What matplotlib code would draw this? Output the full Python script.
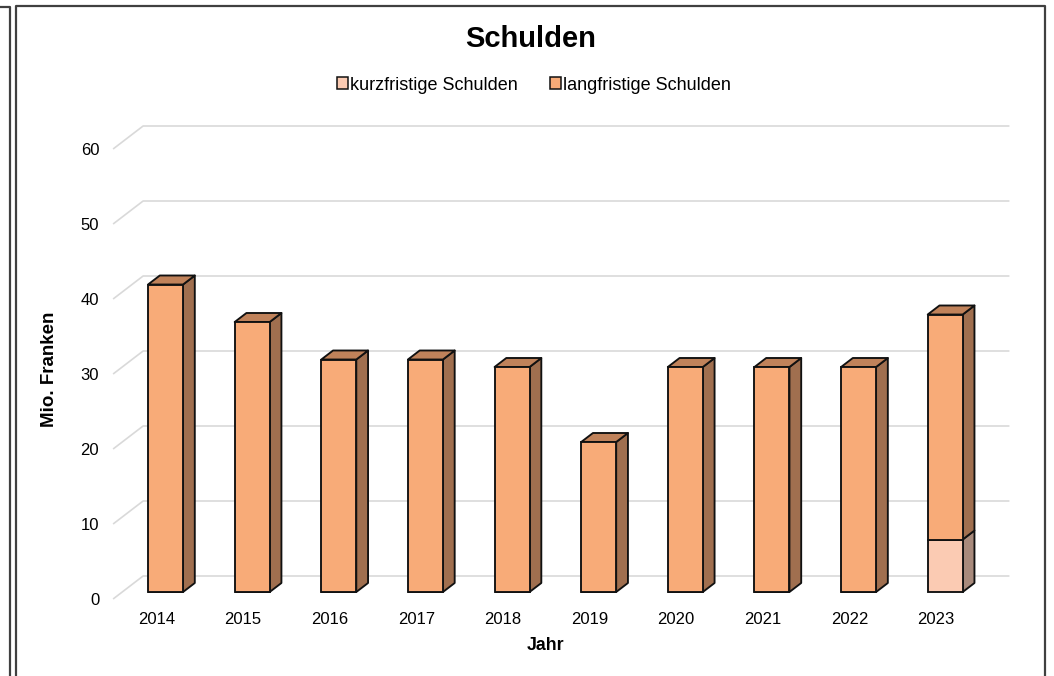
import matplotlib
matplotlib.use("Agg")
import matplotlib.pyplot as plt
from matplotlib.patches import Polygon, Patch
from matplotlib.lines import Line2D
import numpy as np

# ---- data ----
years = ["2014", "2015", "2016", "2017", "2018", "2019", "2020", "2021", "2022", "2023"]
kurzfristig = [0, 0, 0, 0, 0, 0, 0, 0, 0, 7]
langfristig = [41, 36, 31, 31, 30, 20, 30, 30, 30, 30]
yticks = [0, 10, 20, 30, 40, 50, 60]
title = "Schulden"
ylabel = "Mio. Franken"
xlabel = "Jahr"
series_names = ["kurzfristige Schulden", "langfristige Schulden"]

# ---- style ----
FONT = "Liberation Sans"
plt.rcParams["font.family"] = [FONT, "DejaVu Sans"]
col_long = dict(front="#F8AB78", side="#A06F4F", top="#C0825A")
col_short = dict(front="#FBCBB3", side="#A88A7C", top="#D9A88F")
edge = "#111111"
grid_col = "#d9d9d9"
ELW = 1.35

W, H = 1054, 676
fig = plt.figure(figsize=(W / 100, H / 100), dpi=100)

# axes mapped so that category spacing and value scale match
x0_px, x1_px = 113.1, 979.4
y0_px, y1_px = 599, 149
ax = fig.add_axes([x0_px / W, 1 - y0_px / H, (x1_px - x0_px) / W, (y0_px - y1_px) / H])
ax.set_xlim(-0.5, 9.5)
ax.set_ylim(0, 60)
for s in ax.spines.values():
    s.set_visible(False)

# 3D depth (full depth of floor) in data units
DX = 30 / 86.6
DY = 23 / 7.5
t0, t1 = 7 / 23, 16 / 23
bw = 0.404

# gridlines (floor/back wall)
for v in yticks:
    ax.plot([-0.5, -0.5 + DX, 9.5 + DX], [v, v + DY, v + DY], color=grid_col,
            lw=1.2, zorder=1, clip_on=False, solid_capstyle="butt")

x = np.arange(len(years))
fx = x + t0 * DX
fy = t0 * DY
ddx = (t1 - t0) * DX
ddy = (t1 - t0) * DY

short = np.array(kurzfristig, dtype=float)
long_ = np.array(langfristig, dtype=float)

b_short = ax.bar(fx, short, bw, bottom=fy, color=col_short["front"], edgecolor=edge,
                 lw=ELW, zorder=3, clip_on=False)
b_long = ax.bar(fx, long_, bw, bottom=fy + short, color=col_long["front"], edgecolor=edge,
                lw=ELW, zorder=3, clip_on=False)


def side_top(rect, cols, draw_top):
    xl = rect.get_x()
    xr = xl + rect.get_width()
    yb = rect.get_y()
    yt = yb + rect.get_height()
    if rect.get_height() <= 0:
        return
    side = Polygon([(xr, yb), (xr + ddx, yb + ddy), (xr + ddx, yt + ddy), (xr, yt)],
                   closed=True, facecolor=cols["side"], edgecolor=edge, lw=ELW,
                   zorder=2.9, clip_on=False, joinstyle="round")
    ax.add_patch(side)
    if draw_top:
        top = Polygon([(xl, yt), (xl + ddx, yt + ddy), (xr + ddx, yt + ddy), (xr, yt)],
                      closed=True, facecolor=cols["top"], edgecolor=edge, lw=ELW,
                      zorder=2.9, clip_on=False, joinstyle="round")
        ax.add_patch(top)


for rs, rl in zip(b_short, b_long):
    side_top(rs, col_short, rl.get_height() <= 0)
    side_top(rl, col_long, True)

# ticks
ax.set_xticks(x, years)
ax.set_yticks(yticks, [str(v) for v in yticks])
ax.tick_params(axis="x", length=0, pad=9.5, labelsize=12, labelcolor="#000000")
ax.tick_params(axis="y", length=0, pad=10, labelsize=12, labelcolor="#000000")

# texts
fig.text(531 / W, 1 - 39 / H, title, ha="center", va="center", fontsize=21,
         fontweight="bold", color="#000000")
fig.text(49 / W, 1 - 369 / H, ylabel, ha="center", va="center", rotation=90,
         fontsize=13.5, fontweight="bold", color="#000000")
fig.text(546 / W, 1 - 645 / H, xlabel, ha="center", va="center",
         fontsize=12.8, fontweight="bold", color="#000000")

handles = [Patch(facecolor=col_short["front"], edgecolor=edge, lw=1.1),
           Patch(facecolor=col_long["front"], edgecolor=edge, lw=1.1)]
fig.legend(handles, series_names, loc="center", bbox_to_anchor=(534 / W, 1 - 85 / H),
           ncol=2, frameon=False, fontsize=13, handlelength=0.6, handleheight=0.6,
           handletextpad=0.15, columnspacing=1.75, borderpad=0)

# borders
bc = "#404040"
fig.add_artist(Line2D([15.5 / W, 15.5 / W, 1044.5 / W, 1044.5 / W],
                      [0, 1 - 6 / H, 1 - 6 / H, 0], color=bc, lw=1.6,
                      transform=fig.transFigure))
fig.add_artist(Line2D([0, 9.5 / W, 9.5 / W], [1 - 7 / H, 1 - 7 / H, 0], color=bc, lw=1.6,
                      transform=fig.transFigure))

fig.savefig("out.png", dpi=100)
